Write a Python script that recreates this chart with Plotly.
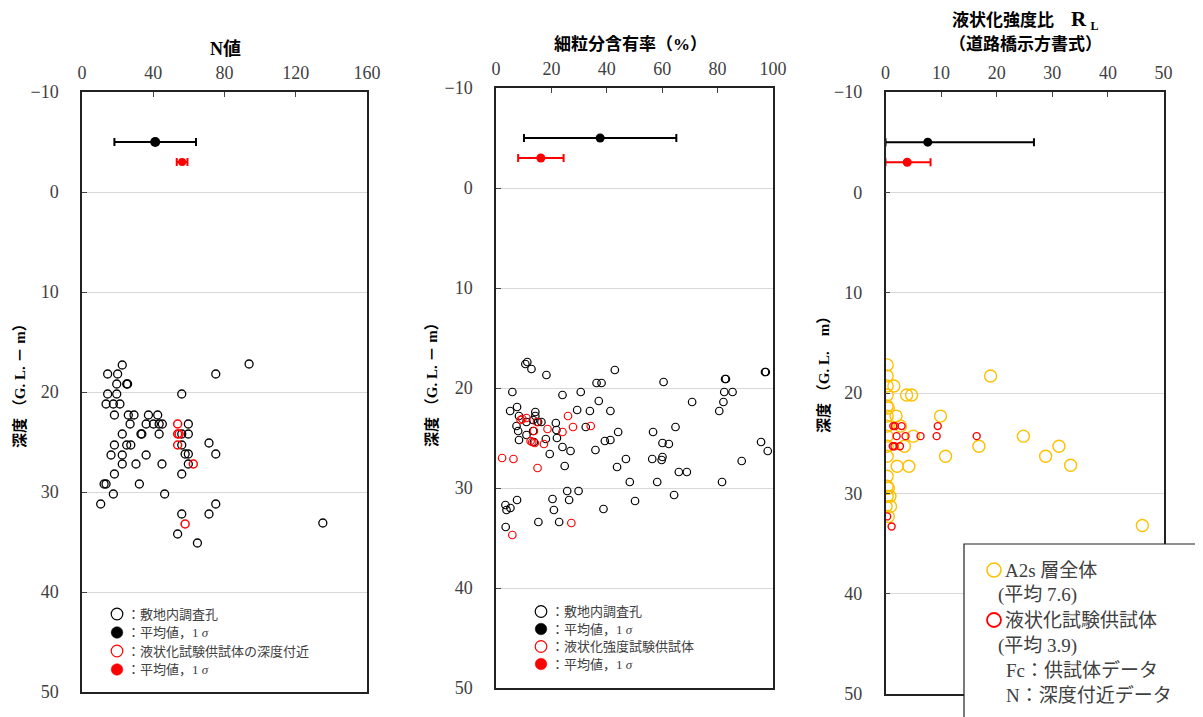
import plotly.graph_objects as go

# The page body adds an 8px margin, so the figure is 8px smaller and all
# reference pixel positions are shifted by OFF.
OFF = 8
W, H = 1203 - OFF, 717 - OFF

# ---------------- data ----------------
# Panel 1: N値 vs depth (敷地内調査孔)
N_site = [22.6, 93.8, 14.4, 20.0, 75.1, 19.5, 25.1, 25.6, 14.4, 19.5, 56.0, 13.5, 17.6, 21.3,
          18.2, 26.0, 29.2, 37.3, 42.5, 27.0, 36.0, 40.1, 43.3, 45.1, 59.7, 22.6, 33.1, 33.6,
          43.3, 56.0, 59.7, 18.2, 25.1, 27.4, 56.0, 71.3, 16.3, 22.6, 36.0, 57.9, 59.7, 75.1,
          22.6, 30.3, 44.9, 59.7, 18.2, 56.0, 12.4, 13.5, 32.2, 17.6, 46.4, 10.5, 75.1, 56.0,
          71.3, 135.2, 53.7, 64.8]
N_site_depth = [17.3, 17.2, 18.2, 18.2, 18.2, 19.2, 19.2, 19.2, 20.2, 20.2, 20.2, 21.2, 21.2, 21.2,
                22.3, 22.3, 22.3, 22.3, 22.3, 23.2, 23.2, 23.2, 23.2, 23.2, 23.2, 24.2, 24.2, 24.2,
                24.2, 24.2, 24.2, 25.3, 25.3, 25.3, 25.3, 25.1, 26.3, 26.3, 26.3, 26.2, 26.2, 26.2,
                27.2, 27.2, 27.2, 27.2, 28.2, 28.2, 29.2, 29.2, 29.2, 30.2, 30.2, 31.2, 31.2, 32.2,
                32.2, 33.1, 34.2, 35.1]
# 液状化試験供試体の深度付近
N_test = [53.7, 53.7, 54.5, 53.7, 62.5, 57.9]
N_test_depth = [23.2, 24.2, 24.2, 25.3, 27.2, 33.2]

# Panel 2: 細粒分含有率 Fc (%)
Fc_site = [10.6, 11.3, 12.8, 18.2, 42.9, 36.3, 38.1, 60.5, 82.7, 83.0, 97.1, 97.4, 5.9, 24.0,
           30.6, 82.4, 85.4, 37.1, 70.8, 82.1, 7.6, 5.1, 29.3, 33.9, 41.3, 80.6, 8.3, 14.2,
           14.2, 7.4, 11.0, 13.4, 15.2, 16.4, 21.6, 8.0, 13.4, 21.8, 32.4, 44.1, 56.7, 64.8,
           11.0, 8.3, 18.0, 22.0, 13.7, 39.3, 41.3, 60.1, 62.4, 95.7, 24.0, 26.9, 35.9, 98.1,
           19.4, 46.9, 56.4, 60.1, 59.8, 88.7, 24.8, 43.7, 66.0, 68.9, 48.3, 58.2, 81.6, 25.7,
           29.8, 64.3, 20.4, 26.4, 50.2, 7.6, 3.4, 5.2, 3.8, 20.9, 38.8, 15.3, 22.8, 3.5]
Fc_site_depth = [17.6, 17.4, 18.1, 18.7, 18.2, 19.5, 19.5, 19.4, 19.1, 19.1, 18.4, 18.4, 20.4, 20.7,
                 20.4, 20.4, 20.4, 21.3, 21.4, 21.4, 21.9, 22.3, 22.2, 22.3, 22.3, 22.3, 22.8, 22.4,
                 22.8, 23.8, 23.4, 23.2, 23.4, 23.4, 23.5, 24.3, 24.3, 24.2, 23.9, 24.4, 24.4, 23.9,
                 24.7, 25.2, 25.1, 25.0, 25.4, 25.3, 25.2, 25.5, 25.6, 25.4, 25.9, 26.3, 26.2, 26.3,
                 26.6, 27.1, 27.1, 26.9, 27.2, 27.3, 27.8, 27.9, 28.4, 28.4, 29.4, 29.4, 29.4, 30.3,
                 30.3, 30.7, 31.1, 31.2, 31.3, 31.2, 31.7, 32.0, 32.2, 32.2, 32.1, 33.4, 33.4, 33.9]
# 液状化強度試験供試体
Fc_test = [8.9, 9.5, 11.0, 14.8, 26.0, 13.7, 18.6, 24.0, 27.8, 34.2, 12.5, 13.1, 14.0, 17.3,
           2.2, 6.3, 15.0, 27.2, 5.9]
Fc_test_depth = [23.2, 23.1, 23.0, 23.4, 22.8, 24.3, 24.1, 24.4, 23.9, 23.8, 25.3, 25.4, 25.5, 25.6,
                 27.0, 27.1, 28.0, 33.5, 34.7]

# Panel 3: 液状化強度比 RL
RL_all = [0.3, 0.3, 18.9, 0.3, 1.5, 0.3, 3.8, 4.7, 0.3, 0.5, 0.3, 1.9, 9.9, 0.3, 2.7, 0.3, 5.0,
          24.8, 0.3, 3.4, 16.8, 31.2, 0.3, 10.8, 28.8, 2.1, 4.2, 33.3, 0.3, 0.3, 0.5, 0.3, 0.8,
          0.1, 0.9, 0.5, 46.2]
RL_all_depth = [17.2, 18.3, 18.3, 19.3, 19.3, 20.2, 20.2, 20.2, 21.3, 21.5, 22.3, 22.3, 22.3, 23.3,
                23.3, 24.3, 24.3, 24.3, 25.3, 25.3, 25.3, 25.3, 26.3, 26.3, 26.3, 27.3, 27.3, 27.2,
                28.3, 29.3, 29.5, 30.3, 30.3, 31.3, 31.3, 32.3, 33.2]
RL_test = [1.4, 1.7, 2.9, 9.4, 2.0, 3.6, 6.3, 9.2, 16.4, 1.3, 1.6, 2.6, 0.3, 1.1]
RL_test_depth = [23.3, 23.3, 23.3, 23.3, 24.3, 24.3, 24.3, 24.3, 24.3, 25.3, 25.3, 25.3, 32.3, 33.3]

# mean values and 1 sigma (plotted above ground level)
MEAN_DEPTH = [-5, -3]          # black (all), red (test)
N_mean = [41.1, 56.2]
N_sd = [22.9, 3.0]
Fc_mean = [37.6, 16.2]
Fc_sd = [27.5, 8.2]
RL_mean = [7.6, 3.9]
RL_sd_plus = [19.1, 4.2]
RL_sd_minus = [7.6, 3.9]       # bars cut at 0

X1_TICKS = [0, 40, 80, 120, 160]
X2_TICKS = [0, 20, 40, 60, 80, 100]
X3_TICKS = [0, 10, 20, 30, 40, 50]
Y_TICKS = [-10, 0, 10, 20, 30, 40, 50]

# ---------------- helpers ----------------
def fx(p):
    return (p - OFF) / W

def fy(p):
    return 1 - (p - OFF) / H

SERIF = "Liberation Serif, Noto Sans CJK JP, serif"
TXT = "#404040"
RED = "#FF0000"
GOLD = "#FFC000"

fig = go.Figure()

def add_open(xv, yv, ax, color, size, lw):
    fig.add_trace(go.Scatter(
        x=xv, y=yv, xaxis=ax[0], yaxis=ax[1], mode="markers", hoverinfo="skip",
        marker=dict(symbol="circle-open", size=size, color=color, line=dict(width=lw, color=color)),
        showlegend=False))

def add_mean(xv, yv, ax, color, plus, minus, size, cap):
    fig.add_trace(go.Scatter(
        x=[xv], y=[yv], xaxis=ax[0], yaxis=ax[1], mode="markers", hoverinfo="skip",
        marker=dict(symbol="circle", size=size, color=color),
        error_x=dict(type="data", symmetric=False, array=[plus], arrayminus=[minus],
                     color=color, thickness=2, width=cap),
        showlegend=False))

A1, A2, A3 = ("x", "y"), ("x2", "y2"), ("x3", "y3")

# panel 1
add_open(N_site, N_site_depth, A1, "black", 8, 1.3)
add_open(N_test, N_test_depth, A1, RED, 8, 1.5)
add_mean(N_mean[0], MEAN_DEPTH[0], A1, "black", N_sd[0], N_sd[0], 10, 4)
add_mean(N_mean[1], MEAN_DEPTH[1], A1, RED, N_sd[1], N_sd[1], 8, 4)
# panel 2
add_open(Fc_site, Fc_site_depth, A2, "black", 7.5, 1.2)
add_open(Fc_test, Fc_test_depth, A2, RED, 7.5, 1.2)
add_mean(Fc_mean[0], MEAN_DEPTH[0], A2, "black", Fc_sd[0], Fc_sd[0], 9, 4)
add_mean(Fc_mean[1], MEAN_DEPTH[1], A2, RED, Fc_sd[1], Fc_sd[1], 9, 4)
# panel 3
add_open(RL_all, RL_all_depth, A3, GOLD, 12, 1.4)
add_open(RL_test, RL_test_depth, A3, RED, 7, 1.4)
add_mean(RL_mean[0], MEAN_DEPTH[0], A3, "black", RL_sd_plus[0], RL_sd_minus[0], 9, 4)
add_mean(RL_mean[1], MEAN_DEPTH[1], A3, RED, RL_sd_plus[1], RL_sd_minus[1], 9, 4)

# ---------------- axes ----------------
def xaxis(domain, rng, ticks, anchor):
    return dict(domain=domain, range=rng, tickvals=ticks, side="top", anchor=anchor,
                automargin=False,
                showline=True, mirror=True, linecolor="#222", linewidth=1.5,
                ticks="inside", ticklen=5, tickcolor="#444", showgrid=False, zeroline=False,
                tickfont=dict(family=SERIF, size=18, color=TXT), ticklabelstandoff=4)

def yaxis(domain, anchor):
    return dict(domain=domain, range=[50, -10], tickvals=Y_TICKS, anchor=anchor,
                automargin=False,
                showline=True, mirror=True, linecolor="#222", linewidth=1.5,
                ticks="inside", ticklen=5, tickcolor="#444",
                showgrid=True, gridcolor="#d9d9d9", gridwidth=1, zeroline=False,
                tickfont=dict(family=SERIF, size=18, color=TXT), ticklabelstandoff=18)

fig.update_layout(
    width=W, height=H, margin=dict(l=0, r=0, t=0, b=0, autoexpand=False),
    paper_bgcolor="white", plot_bgcolor="white", showlegend=False,
    xaxis=xaxis([fx(82), fx(367)], [0, 160], X1_TICKS, "y"),
    yaxis=yaxis([fy(692), fy(92)], "x"),
    xaxis2=xaxis([fx(496), fx(773)], [0, 100], X2_TICKS, "y2"),
    yaxis2=yaxis([fy(688), fy(88)], "x2"),
    xaxis3=xaxis([fx(885.5), fx(1163.5)], [0, 50], X3_TICKS, "y3"),
    yaxis3=yaxis([fy(694), fy(92)], "x3"),
)

ann = []
def text(x, y, s, size=13, bold=False, color=TXT, xanchor="center", angle=0, family=SERIF):
    ann.append(dict(x=fx(x), y=fy(y), xref="paper", yref="paper", text=("<b>%s</b>" % s) if bold else s,
                    showarrow=False, xanchor=xanchor, yanchor="middle", textangle=angle,
                    font=dict(family=family, size=size, color=color)))

# titles
text(225, 49, "N値", size=18, bold=True, color="black")
text(631, 44, "細粒分含有率（%）", size=17, bold=True, color="black")
text(1025, 20, "液状化強度比　<span style='font-size:21px'>R</span> <sub>L</sub>",
     size=17, bold=True, color="black")
text(1025, 44, "（道路橋示方書式）", size=17, bold=True, color="black")

# y axis titles
text(20, 382, "深度 （G. L. － m）", size=15, bold=True, color="black", angle=-90)
text(432, 381, "深度 （G. L. － m）", size=15, bold=True, color="black", angle=-90)
text(823, 371, "深度 （G. L.　m）", size=15, bold=True, color="black", angle=-90)

shapes = []
def circ(cx, cy, r, color, fill, lw):
    shapes.append(dict(type="circle", xref="paper", yref="paper",
                       x0=fx(cx - r), x1=fx(cx + r), y0=fy(cy + r), y1=fy(cy - r),
                       line=dict(color=color, width=lw), fillcolor=fill, layer="above"))

# panel 1 legend
leg1 = [("black", "rgba(0,0,0,0)", "：敷地内調査孔"),
        ("black", "black", "：平均値，1 <i>σ</i>"),
        (RED, "rgba(0,0,0,0)", "：液状化試験供試体の深度付近"),
        (RED, RED, "：平均値，1 <i>σ</i>")]
for i, (c, f, s) in enumerate(leg1):
    yy = 614 + i * 18.5
    circ(117, yy, 5.8, c, f, 1.2 if f.startswith("rgba") else 0.5)
    text(125, yy, s, size=13, xanchor="left")

# panel 2 legend
leg2 = [("black", "rgba(0,0,0,0)", "：敷地内調査孔"),
        ("black", "black", "：平均値，1 <i>σ</i>"),
        (RED, "rgba(0,0,0,0)", "：液状化強度試験供試体"),
        (RED, RED, "：平均値，1 <i>σ</i>")]
for i, (c, f, s) in enumerate(leg2):
    yy = 611.5 + i * 17.5
    circ(541, yy, 5.8, c, f, 1.2 if f.startswith("rgba") else 0.5)
    text(549, yy, s, size=13, xanchor="left")

# panel 3 legend box
shapes.append(dict(type="rect", xref="paper", yref="paper", x0=fx(964), x1=fx(1197.5),
                   y0=fy(730), y1=fy(544), line=dict(color="#222", width=1.2),
                   fillcolor="white", layer="above"))
circ(994, 570, 7, GOLD, "rgba(0,0,0,0)", 1.6)
circ(994, 620, 7, RED, "rgba(0,0,0,0)", 1.8)
text(1003, 570, "A2s 層全体", size=19, xanchor="left")
text(996, 595, "(平均 7.6)", size=19, xanchor="left")
text(1003, 620, "液状化試験供試体", size=19, xanchor="left")
text(996, 646, "(平均 3.9)", size=19, xanchor="left")
text(1004, 670, "Fc：供試体データ", size=19, xanchor="left")
text(1004, 695, "N：深度付近データ", size=19, xanchor="left")

fig.update_layout(annotations=ann, shapes=shapes)
fig.write_html("out.html")
